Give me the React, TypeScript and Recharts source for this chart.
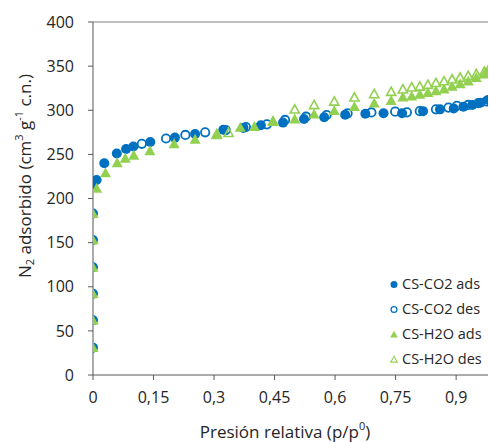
import React from 'react';
import {
  ScatterChart,
  Scatter,
  XAxis,
  YAxis,
  ReferenceLine,
} from 'recharts';

// [p/p0, volumen adsorbido]
const co2Ads: [number, number][] = [
  [0, 31], [0, 62], [0, 92], [0, 122], [0, 153], [0, 183], [0, 213],
  [0.009, 221], [0.028, 240], [0.059, 251], [0.082, 256], [0.1, 259], [0.142, 264],
  [0.203, 269], [0.253, 273], [0.323, 278], [0.373, 280], [0.416, 283], [0.471, 286],
  [0.523, 290], [0.573, 292], [0.625, 295], [0.675, 296], [0.72, 296.5], [0.766, 296.5],
  [0.818, 299], [0.86, 301], [0.894, 302], [0.918, 304], [0.94, 306], [0.96, 308.6], [0.979, 311.6],
];

const co2Des: [number, number][] = [
  [0.121, 262], [0.181, 268], [0.229, 272], [0.278, 275], [0.329, 277.5], [0.379, 281],
  [0.431, 284], [0.476, 289], [0.528, 292.7], [0.579, 294.6], [0.631, 296.5], [0.69, 297.5],
  [0.749, 298.4], [0.778, 297.6], [0.81, 299], [0.85, 301], [0.881, 303], [0.902, 305],
  [0.93, 306], [0.955, 308], [0.975, 310],
];

const h2oAds: [number, number][] = [
  [0, 31], [0, 62], [0, 92], [0, 122], [0, 153], [0, 183],
  [0.009, 211.5], [0.031, 229], [0.06, 240.5], [0.08, 245.5], [0.101, 249], [0.141, 254],
  [0.201, 262], [0.253, 267], [0.306, 272], [0.365, 280.5], [0.4, 281.5], [0.447, 287],
  [0.5, 290], [0.548, 295.5], [0.598, 299.5], [0.648, 304], [0.697, 308], [0.739, 311],
  [0.768, 315], [0.79, 316], [0.81, 318], [0.83, 320], [0.85, 322], [0.87, 324], [0.89, 327],
  [0.91, 330], [0.93, 333], [0.95, 337], [0.97, 341], [0.98, 344],
];

const h2oDes: [number, number][] = [
  [0.307, 273], [0.336, 274.5], [0.446, 287.5], [0.5, 301], [0.548, 306], [0.598, 310],
  [0.648, 314.6], [0.697, 318.4], [0.739, 321], [0.768, 323.7], [0.79, 326], [0.81, 327],
  [0.83, 329], [0.85, 331], [0.87, 333], [0.89, 335], [0.91, 337], [0.93, 339], [0.95, 341],
  [0.97, 344], [0.98, 346],
];

const xTicks = [0, 0.15, 0.3, 0.45, 0.6, 0.75, 0.9];
const yTicks = [0, 50, 100, 150, 200, 250, 300, 350, 400];

const BLUE = '#0070C0';
const GREEN = '#92D050';
const FONT = '"Open Sans", sans-serif';

const toPoints = (arr: [number, number][]) => arr.map(([p, v]) => ({ p, v }));

type Kind = 'circle' | 'circleOpen' | 'tri' | 'triOpen';

function Marker({ cx, cy, kind, size = 1 }: { cx: number; cy: number; kind: Kind; size?: number }) {
  if (kind === 'circle') return <circle cx={cx} cy={cy} r={5 * size} fill={BLUE} />;
  if (kind === 'circleOpen')
    return <circle cx={cx} cy={cy} r={4.2 * size} fill="none" stroke={BLUE} strokeWidth={1.8 * size} />;
  const h = 5.5 * size;
  const pts = `${cx},${cy - h} ${cx + h},${cy + h * 0.8} ${cx - h},${cy + h * 0.8}`;
  if (kind === 'tri') return <polygon points={pts} fill={GREEN} />;
  const h2 = 4.6 * size;
  const pts2 = `${cx},${cy - h2} ${cx + h2},${cy + h2 * 0.8} ${cx - h2},${cy + h2 * 0.8}`;
  return <polygon points={pts2} fill="none" stroke={GREEN} strokeWidth={1.6 * size} />;
}

const series: { name: string; data: [number, number][]; kind: Kind }[] = [
  { name: 'CS-CO2 ads', data: co2Ads, kind: 'circle' },
  { name: 'CS-CO2 des', data: co2Des, kind: 'circleOpen' },
  { name: 'CS-H2O ads', data: h2oAds, kind: 'tri' },
  { name: 'CS-H2O des', data: h2oDes, kind: 'triOpen' },
];

function LegendBox() {
  return (
    <div
      style={{
        position: 'absolute',
        left: 388,
        top: 271,
        fontFamily: FONT,
        fontSize: 14.5,
        color: '#262626',
        whiteSpace: 'nowrap',
      }}
    >
      {series.map((s) => (
        <div key={s.name} style={{ display: 'flex', alignItems: 'center', height: 25 }}>
          <svg width={12} height={12} style={{ marginRight: 2 }}>
            <Marker cx={6} cy={6.5} kind={s.kind} size={0.7} />
          </svg>
          <span>{s.name}</span>
        </div>
      ))}
    </div>
  );
}

const YLabel = () => (
  <text
    x={24}
    y={176}
    transform="rotate(-90, 24, 176)"
    textAnchor="middle"
    dominantBaseline="central"
    fontFamily={FONT}
    fontSize={17}
    fill="#262626"
  >
    N<tspan dy={5} fontSize={11}>2</tspan>
    <tspan dy={-5}> adsorbido (cm</tspan>
    <tspan dy={-6} fontSize={11}>3</tspan>
    <tspan dy={6}> g</tspan>
    <tspan dy={-6} fontSize={11}>-1</tspan>
    <tspan dy={6}> c.n.)</tspan>
  </text>
);

const XLabel = () => (
  <text x={285} y={431} textAnchor="middle" dominantBaseline="central" fontFamily={FONT} fontSize={17} fill="#262626">
    Presión relativa (p/p<tspan dy={-6} fontSize={11}>0</tspan>
    <tspan dy={6}>)</tspan>
  </text>
);

export default function App() {
  return (
    <div style={{ position: 'absolute', left: 0, top: 0, width: 489, height: 442, background: '#fff' }}>
      <ScatterChart width={489} height={442} margin={{ top: 22, right: 1, bottom: 0, left: 0 }}>
        <XAxis
          type="number"
          dataKey="p"
          domain={[0, 0.979]}
          ticks={xTicks}
          allowDataOverflow
          tickFormatter={(v: number) => String(v).replace('.', ',')}
          tickSize={5}
          tickMargin={12}
          height={67}
          stroke="#595959"
          tick={{ fill: '#262626', fontSize: 16, fontFamily: FONT }}
          label={<XLabel />}
        />
        <YAxis
          type="number"
          dataKey="v"
          domain={[0, 400]}
          ticks={yTicks}
          width={93}
          tickSize={5}
          tickMargin={14}
          stroke="#595959"
          tick={{ fill: '#262626', fontSize: 16, fontFamily: FONT }}
          label={<YLabel />}
        />
        <ReferenceLine y={400} stroke="#808080" strokeWidth={1.2} />
        {series.map((s) => (
          <Scatter
            key={s.name}
            name={s.name}
            data={toPoints(s.data)}
            isAnimationActive={false}
            shape={(props: any) => <Marker cx={props.cx} cy={props.cy} kind={s.kind} />}
          />
        ))}
      </ScatterChart>
      <LegendBox />
    </div>
  );
}
